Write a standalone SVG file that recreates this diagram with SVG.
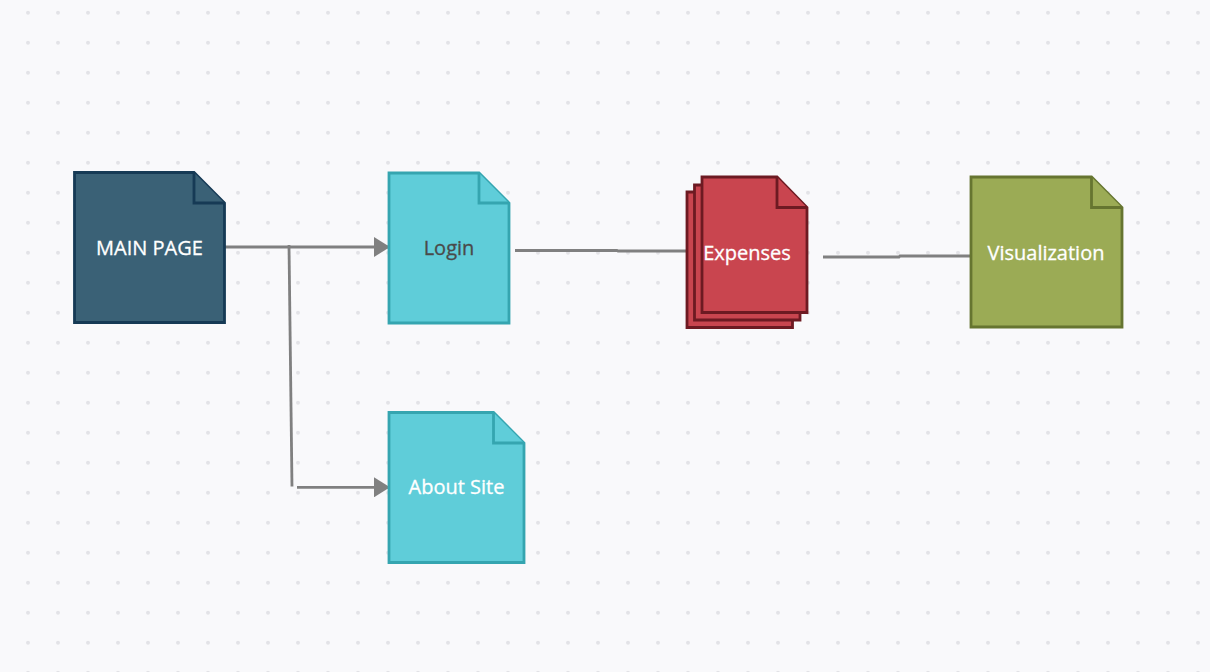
<svg xmlns="http://www.w3.org/2000/svg" width="1210" height="672" viewBox="0 0 1210 672">
<defs>
<pattern id="dots" x="0" y="0" width="30" height="30" patternUnits="userSpaceOnUse">
<circle cx="28" cy="12.7" r="2" fill="#e3e3e7"/>
</pattern>
<marker id="arr" markerWidth="16" markerHeight="20" refX="15" refY="10" orient="auto" markerUnits="userSpaceOnUse">
<path d="M0,0 L16,10 L0,20 Z" fill="#808080"/>
</marker>
<style>
.lbl{font-family:"Open Sans","Noto Sans","DejaVu Sans",sans-serif;font-size:20px;text-anchor:middle;stroke-width:0.3}
.w{fill:#ffffff;stroke:#ffffff}
.dk{fill:#4a4a4a;stroke:#4a4a4a}
.conn{fill:none;stroke:#808080;stroke-width:2.8}
.doc{stroke-width:2.8;stroke-linejoin:miter}
.main{fill:#3a6176;stroke:#163a55}
.cyan{fill:#5fcdd9;stroke:#35a5b0}
.red{fill:#c9454f;stroke:#6d1a22}
.green{fill:#9bab55;stroke:#667530}
</style>
</defs>
<rect width="1210" height="672" fill="#f9f9fb"/>
<rect width="1210" height="672" fill="url(#dots)"/>
<g id="connectors">
<line class="conn" x1="225" y1="247" x2="389" y2="247" marker-end="url(#arr)"/>
<line class="conn" x1="289" y1="245" x2="292" y2="486.5"/>
<line class="conn" x1="297" y1="487.3" x2="389" y2="487.3" marker-end="url(#arr)"/>
<polyline class="conn" points="515,250.5 617,250.5 618,251 687,251"/>
<polyline class="conn" points="823,257 899,257 900,256 970,256"/>
</g>
<g id="main-page">
<path class="doc main" d="M74.5,172.5 H194 L224.5,203 V322.5 H74.5 Z"/>
<path class="doc main" d="M194,172.5 V203 H224.5" fill="none"/>
<text class="lbl w" x="149.5" y="254.5">MAIN PAGE</text>
</g>
<g id="login">
<path class="doc cyan" d="M389,173 H479 L509,203 V323 H389 Z"/>
<path class="doc cyan" d="M479,173 V203 H509" fill="none"/>
<text class="lbl dk" x="449" y="255">Login</text>
</g>
<g id="about-site">
<path class="doc cyan" d="M389,412.5 H493.5 L524,443 V562.5 H389 Z"/>
<path class="doc cyan" d="M493.5,412.5 V443 H524" fill="none"/>
<text class="lbl w" x="456.5" y="494">About Site</text>
</g>
<g id="expenses">
<path class="doc red" d="M687,192 H762 L792.5,222.5 V327.5 H687 Z"/>
<path class="doc red" d="M694.5,185 H770 L800,215 V320 H694.5 Z"/>
<path class="doc red" d="M702,177 H777 L807,207.5 V312.5 H702 Z"/>
<path class="doc red" d="M777,177 V207.5 H807" fill="none"/>
<text class="lbl w" x="747" y="260">Expenses</text>
</g>
<g id="visualization">
<path class="doc green" d="M971,177 H1091.5 L1122,207.5 V327 H971 Z"/>
<path class="doc green" d="M1091.5,177 V207.5 H1122" fill="none"/>
<text class="lbl w" x="1046" y="260">Visualization</text>
</g>
</svg>
